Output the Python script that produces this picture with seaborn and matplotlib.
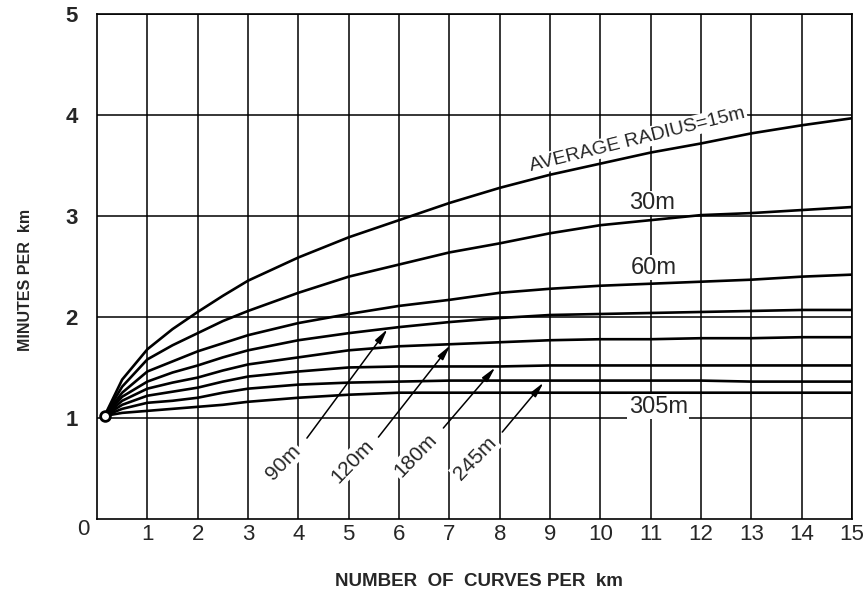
import numpy as np
import pandas as pd
import seaborn as sns
import matplotlib
matplotlib.use('Agg')
import matplotlib.pyplot as plt

# curves per km (x) and minutes per km (y) for each average radius
x_pts = [0.15, 0.5, 1, 1.5, 2, 2.5, 3, 4, 5, 6, 7, 8, 9, 10, 11, 12, 13, 14, 15]
r15  = [1.02, 1.38, 1.68, 1.88, 2.05, 2.21, 2.36, 2.59, 2.79, 2.96, 3.13, 3.28, 3.41, 3.52, 3.63, 3.72, 3.82, 3.90, 3.97]
r30  = [1.02, 1.31, 1.58, 1.72, 1.84, 1.96, 2.06, 2.24, 2.40, 2.52, 2.64, 2.73, 2.83, 2.91, 2.96, 3.01, 3.03, 3.06, 3.09]
r60  = [1.02, 1.25, 1.46, 1.56, 1.66, 1.74, 1.82, 1.94, 2.03, 2.11, 2.17, 2.24, 2.28, 2.31, 2.33, 2.35, 2.37, 2.40, 2.42]
r90  = [1.02, 1.21, 1.36, 1.45, 1.52, 1.60, 1.67, 1.77, 1.84, 1.90, 1.95, 1.99, 2.02, 2.03, 2.04, 2.05, 2.06, 2.07, 2.07]
r120 = [1.02, 1.17, 1.29, 1.35, 1.40, 1.47, 1.53, 1.60, 1.67, 1.71, 1.73, 1.75, 1.77, 1.78, 1.78, 1.79, 1.79, 1.80, 1.80]
r180 = [1.02, 1.13, 1.22, 1.26, 1.30, 1.36, 1.41, 1.46, 1.50, 1.51, 1.51, 1.51, 1.52, 1.52, 1.52, 1.52, 1.52, 1.52, 1.52]
r245 = [1.02, 1.09, 1.15, 1.17, 1.20, 1.25, 1.29, 1.33, 1.35, 1.36, 1.37, 1.37, 1.37, 1.37, 1.37, 1.37, 1.36, 1.36, 1.36]
r305 = [1.02, 1.05, 1.07, 1.09, 1.11, 1.13, 1.16, 1.20, 1.23, 1.25, 1.25, 1.25, 1.25, 1.25, 1.25, 1.25, 1.25, 1.25, 1.25]

radii = ['15m', '30m', '60m', '90m', '120m', '180m', '245m', '305m']
series = [r15, r30, r60, r90, r120, r180, r245, r305]

rows = []
for name, ys in zip(radii, series):
    for xv, yv in zip(x_pts, ys):
        rows.append({'radius': name, 'curves': xv, 'minutes': yv})
df = pd.DataFrame(rows)

sns.set_style('white')
plt.rcParams['font.family'] = ['Liberation Sans', 'DejaVu Sans']

fig = plt.figure(figsize=(8.66, 5.95), dpi=100)
ax = fig.add_axes([0.112, 0.128, 0.872, 0.848])

sns.lineplot(data=df, x='curves', y='minutes', units='radius', estimator=None,
             color='black', lw=1.9, legend=False, ax=ax, zorder=3,
             solid_joinstyle='round', solid_capstyle='round')
ax.plot([0.15], [1.02], 'o', ms=7, mfc='white', mec='black', mew=2, zorder=5)

ax.set_xlim(0, 15)
ax.set_ylim(0, 5)
ax.set_xticks(range(1, 16))
ax.set_yticks(range(1, 6))
ax.set_xticklabels([str(i) for i in range(1, 16)], fontsize=16)
ax.set_yticklabels([str(i) for i in range(1, 6)], fontsize=16, fontweight='bold')
ax.tick_params(axis='x', length=0, pad=4)
ax.tick_params(axis='y', length=0, pad=14)
ax.grid(True, color='black', lw=1.1)
ax.set_axisbelow(True)
for s in ax.spines.values():
    s.set_color('black')
    s.set_linewidth(1.2)
ax.set_xlabel('')
ax.set_ylabel('')
ax.text(-0.28, -0.11, '0', fontsize=16, ha='center', va='center')

fig.text(0.03, 0.53, 'MINUTES PER  km', rotation=90, ha='center', va='center',
         fontsize=11.5, fontweight='bold')
fig.text(0.553, 0.022, 'NUMBER  OF  CURVES PER  km', ha='center', va='center',
         fontsize=13.5, fontweight='bold')

wb = dict(facecolor='white', edgecolor='none', pad=1)
ax.text(10.74, 3.76, 'AVERAGE RADIUS=15m', rotation=14, fontsize=14, ha='center', va='center', bbox=wb, zorder=4)
ax.text(11.03, 3.13, '30m', fontsize=17, ha='center', va='center', bbox=wb, zorder=4)
ax.text(11.05, 2.49, '60m', fontsize=17, ha='center', va='center', bbox=wb, zorder=4)
ax.text(11.15, 1.11, '305m', fontsize=17, ha='center', va='center', bbox=wb, zorder=4)

arrows = [('90m', (3.70, 0.56), (4.17, 0.80), (5.77, 1.88)),
          ('120m', (5.07, 0.57), (5.59, 0.81), (7.02, 1.72)),
          ('180m', (6.32, 0.63), (6.88, 0.90), (7.91, 1.50)),
          ('245m', (7.51, 0.60), (8.05, 0.86), (8.87, 1.35))]
for lab, pos, tail, tip in arrows:
    ax.text(pos[0], pos[1], lab, rotation=46, fontsize=15, ha='center', va='center', bbox=wb, zorder=4)
    ax.annotate('', xy=tip, xytext=tail,
                arrowprops=dict(arrowstyle='-|>,head_length=0.9,head_width=0.2',
                                color='black', lw=1.1, shrinkA=0, shrinkB=0), zorder=6)

fig.savefig('out.png', dpi=100)
